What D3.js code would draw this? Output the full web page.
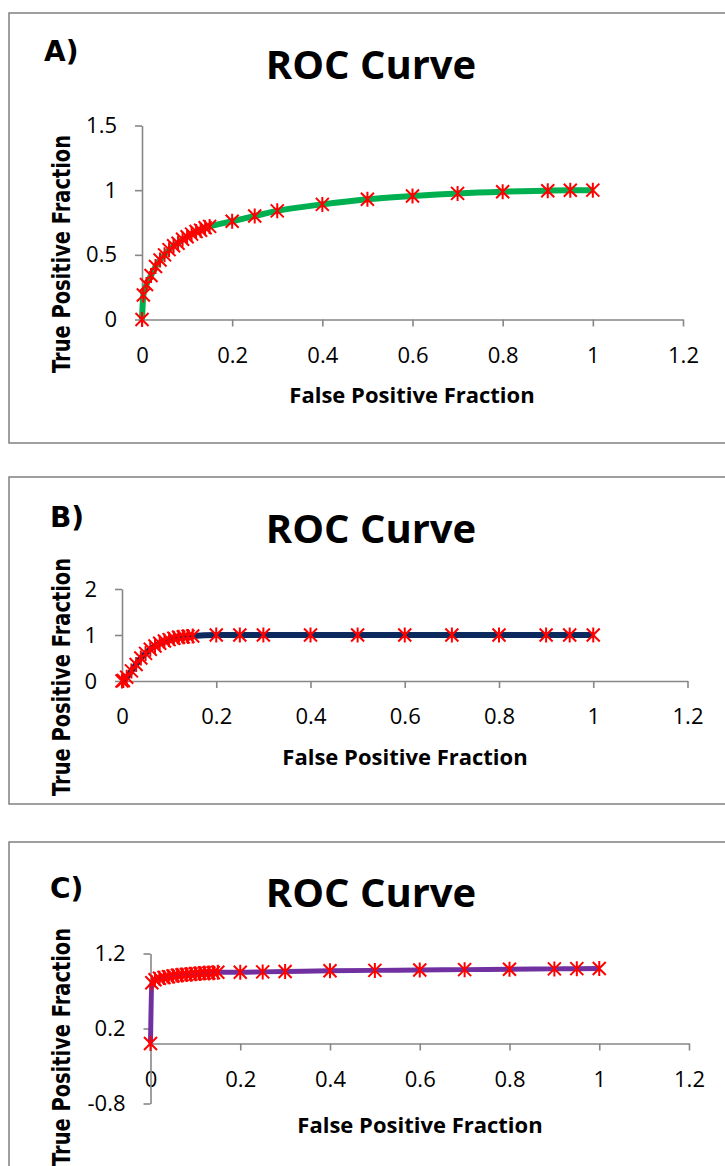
<!DOCTYPE html>
<html>
<head>
<meta charset="utf-8">
<script src="https://cdn.jsdelivr.net/npm/d3@7"></script>
<style>
  body { margin: 0; background: #fff; }
</style>
</head>
<body>
<div id="viz"></div>
<script>
// false positive fraction, shared by the three curves
var fpf = [0, 0.003, 0.01, 0.02, 0.03, 0.04, 0.05, 0.06, 0.07, 0.08, 0.09, 0.1,
           0.11, 0.12, 0.13, 0.14, 0.15, 0.2, 0.25, 0.3, 0.4, 0.5, 0.6, 0.7, 0.8,
           0.9, 0.95, 1];
var tpfA = [0, 0.19, 0.27, 0.34, 0.41, 0.46, 0.5, 0.54, 0.57, 0.59, 0.62, 0.64,
            0.66, 0.68, 0.69, 0.71, 0.72, 0.76, 0.8, 0.84, 0.89, 0.93, 0.955, 0.975, 0.988,
            0.996, 0.999, 1];
var tpfB = [0, 0.01, 0.08, 0.22, 0.36, 0.5, 0.6, 0.69, 0.76, 0.82, 0.87, 0.9,
            0.93, 0.95, 0.96, 0.97, 0.98, 1, 1, 1, 1, 1, 1, 1, 1,
            1, 1, 1];
var tpfC = [0, 0.81, 0.85, 0.87, 0.88, 0.89, 0.9, 0.91, 0.915, 0.92, 0.925, 0.93,
            0.935, 0.94, 0.94, 0.945, 0.95, 0.95, 0.955, 0.96, 0.97, 0.975, 0.98, 0.985, 0.99,
            0.995, 0.998, 1];

var xTicks = [0, 0.2, 0.4, 0.6, 0.8, 1, 1.2];
var yTicksA = [0, 0.5, 1, 1.5];
var yTicksB = [0, 1, 2];
var yTicksC = [-0.8, 0.2, 1.2];

var panelLabels = ["A)", "B)", "C)"];
var chartTitle = "ROC Curve";
var xTitle = "False Positive Fraction";
var yTitle = "True Positive Fraction";

var W = 725, H = 1166,
    axis_color = "#878787",
    frame_color = "#808080",
    marker_color = "#ff0000",
    text_color = "#000";

var panels = [
  { label: panelLabels[0], tpf: tpfA, yTicks: yTicksA, color: "#00b050", lw: 6,
    frame: [13, 443], x0: 142, x1: 683, yTop: 125.5, yBot: 319.5, yDom: [0, 1.5],
    labelPos: [44, 60.5], titleY: 79, xTitleX: 412, xTitleY: 403, yTitleY: 254 },
  { label: panelLabels[1], tpf: tpfB, yTicks: yTicksB, color: "#0c2a5e", lw: 6,
    frame: [477, 804], x0: 122, x1: 687.5, yTop: 589, yBot: 681, yDom: [0, 2],
    labelPos: [50, 527], titleY: 543, xTitleX: 405, xTitleY: 765, yTitleY: 677 },
  { label: panelLabels[2], tpf: tpfC, yTicks: yTicksC, color: "#7030a0", lw: 5,
    frame: [842, 1180], x0: 150.5, x1: 689, yTop: 953.5, yBot: 1103.5, yDom: [-0.8, 1.2],
    labelPos: [50, 898], titleY: 907, xTitleX: 420, xTitleY: 1133, yTitleY: 1047 }
];

var svg = d3.select("#viz")
    .append("svg")
    .attr("width", W)
    .attr("height", H)
    .style("display", "block");

// asterisk marker used by Excel's "star" style
var star = "M-6.5,-6.5L6.5,6.5M-6.5,6.5L6.5,-6.5M0,-7.5L0,7.5";

panels.forEach(function(p) {
  var g = svg.append("g");

  g.append("rect")
      .attr("x", 9).attr("y", p.frame[0])
      .attr("width", 760).attr("height", p.frame[1] - p.frame[0])
      .attr("fill", "#fff")
      .attr("stroke", frame_color)
      .attr("stroke-width", 1.5);

  var x = d3.scaleLinear().domain([0, 1.2]).range([p.x0, p.x1]);
  var y = d3.scaleLinear().domain(p.yDom).range([p.yBot, p.yTop]);

  var xAxis = d3.axisBottom(x).tickValues(xTicks).tickSize(7).tickSizeOuter(0)
      .tickPadding(20.5).tickFormat(function(d) { return String(d); });
  var yAxis = d3.axisLeft(y).tickValues(p.yTicks).tickSize(7).tickSizeOuter(0)
      .tickPadding(18).tickFormat(function(d) { return String(d); });

  var gx = g.append("g")
      .attr("transform", "translate(0," + y(0) + ")")
      .call(xAxis);
  var gy = g.append("g")
      .attr("transform", "translate(" + x(0) + ",0)")
      .call(yAxis);

  [gx, gy].forEach(function(a) {
    a.attr("font-family", "'Open Sans', sans-serif").attr("font-size", 22);
    a.selectAll("path, line").attr("stroke", axis_color).attr("stroke-width", 1.6);
    a.selectAll("text").attr("fill", text_color);
  });

  var line = d3.line()
      .x(function(d, i) { return x(fpf[i]); })
      .y(function(d) { return y(d); })
      .curve(d3.curveMonotoneX);

  g.append("path")
      .datum(p.tpf)
      .attr("d", line)
      .attr("fill", "none")
      .attr("stroke", p.color)
      .attr("stroke-width", p.lw)
      .attr("stroke-linejoin", "round");

  g.selectAll(".marker")
      .data(p.tpf)
      .enter()
      .append("path")
      .attr("class", "marker")
      .attr("d", star)
      .attr("transform", function(d, i) { return "translate(" + x(fpf[i]) + "," + y(d) + ")"; })
      .attr("fill", "none")
      .attr("stroke", marker_color)
      .attr("stroke-width", 2);

  g.append("text")
      .attr("x", p.labelPos[0]).attr("y", p.labelPos[1])
      .attr("font-family", "'DejaVu Sans', sans-serif")
      .attr("font-weight", "bold")
      .attr("font-size", 28)
      .attr("fill", text_color)
      .text(p.label);

  g.append("text")
      .attr("x", 371).attr("y", p.titleY)
      .attr("text-anchor", "middle")
      .attr("font-family", "'Open Sans', sans-serif")
      .attr("font-weight", "bold")
      .attr("font-size", 40)
      .attr("fill", text_color)
      .text(chartTitle);

  g.append("text")
      .attr("x", p.xTitleX).attr("y", p.xTitleY)
      .attr("text-anchor", "middle")
      .attr("font-family", "'Open Sans', sans-serif")
      .attr("font-weight", "bold")
      .attr("font-size", 22)
      .attr("fill", text_color)
      .text(xTitle);

  g.append("text")
      .attr("transform", "translate(70," + p.yTitleY + ") rotate(-90)")
      .attr("text-anchor", "middle")
      .attr("font-family", "'DejaVu Sans', sans-serif")
      .attr("font-weight", "bold")
      .attr("font-size", 25)
      .attr("textLength", 238)
      .attr("lengthAdjust", "spacingAndGlyphs")
      .attr("fill", text_color)
      .text(yTitle);
});
</script>
</body>
</html>
